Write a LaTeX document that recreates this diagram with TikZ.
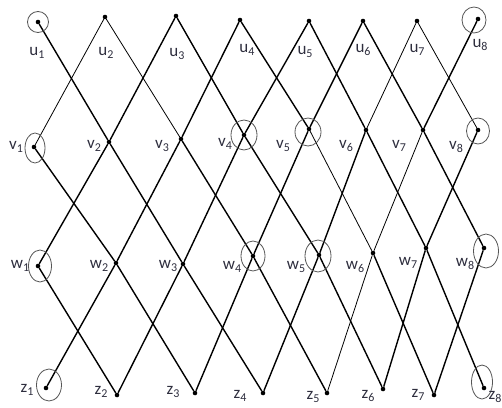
\documentclass[tikz,border=0pt]{standalone}
\usepackage{fontspec}
\setmainfont{Carlito}
\definecolor{lab}{HTML}{2E2E3E}
\definecolor{ring}{HTML}{555555}
\newcommand{\lb}[2]{#1\raisebox{-0.35ex}{\fontsize{12}{12}\selectfont #2}}
\tikzset{
  dot/.style={circle,fill=black,inner sep=0pt,minimum size=4.6pt},
  edge/.style={line width=1.4pt},
  thinedge/.style={line width=0.8pt},
  ring/.style={draw=ring,line width=0.8pt},
  lbl/.style={text=lab,font=\fontsize{17}{17}\selectfont,inner sep=0pt}
}
\begin{document}
\begin{tikzpicture}[x=1pt,y=-1pt]
\useasboundingbox (0,0) rectangle (502,407);
% u row
\node[dot] (u1) at (38,22) {};
\node[dot] (u2) at (105,17) {};
\node[dot] (u3) at (176,16) {};
\node[dot] (u4) at (240,20) {};
\node[dot] (u5) at (309,21) {};
\node[dot] (u6) at (363,21) {};
\node[dot] (u7) at (417,21) {};
\node[dot] (u8) at (478,19) {};
% v row
\node[dot] (v1) at (34,147) {};
\node[dot] (v2) at (109,142) {};
\node[dot] (v3) at (181,139) {};
\node[dot] (v4) at (244,135) {};
\node[dot] (v5) at (309,129) {};
\node[dot] (v6) at (366,130) {};
\node[dot] (v7) at (423,130) {};
\node[dot] (v8) at (478,130) {};
% w row
\node[dot] (w1) at (38,266) {};
\node[dot] (w2) at (116,263) {};
\node[dot] (w3) at (183,264) {};
\node[dot] (w4) at (253,256) {};
\node[dot] (w5) at (319,255) {};
\node[dot] (w6) at (373,253) {};
\node[dot] (w7) at (426,248) {};
\node[dot] (w8) at (484,248) {};
% z row
\node[dot] (z1) at (46,388) {};
\node[dot] (z2) at (117,395) {};
\node[dot] (z3) at (195,393) {};
\node[dot] (z4) at (263,393) {};
\node[dot] (z5) at (327,393) {};
\node[dot] (z6) at (383,389) {};
\node[dot] (z7) at (434,395) {};
\node[dot] (z8) at (484,388) {};
% edges u-v
\draw[edge] (u1) -- (v2);
\draw[thinedge] (u2) -- (v1);
\draw[thinedge] (u2) -- (v3);
\draw[edge] (u3) -- (v2);
\draw[edge] (u3) -- (v4);
\draw[edge] (u4) -- (v3);
\draw[edge] (u4) -- (v5);
\draw[edge] (u5) -- (v4);
\draw[edge] (u5) -- (v6);
\draw[edge] (u6) -- (v5);
\draw[edge] (u6) -- (v7);
\draw[thinedge] (u7) -- (v6);
\draw[thinedge] (u7) -- (v8);
\draw[edge] (u8) -- (v7);
% edges v-w
\draw[edge] (v1) -- (w2);
\draw[edge] (v2) -- (w1);
\draw[edge] (v2) -- (w3);
\draw[edge] (v3) -- (w2);
\draw[edge] (v3) -- (w4);
\draw[edge] (v4) -- (w3);
\draw[edge] (v4) -- (w5);
\draw[edge] (v5) -- (w4);
\draw[thinedge] (v5) -- (w6);
\draw[edge] (v6) -- (w5);
\draw[edge] (v6) -- (w7);
\draw[thinedge] (v7) -- (w6);
\draw[edge] (v7) -- (w8);
\draw[edge] (v8) -- (w7);
% edges w-z
\draw[edge] (w1) -- (z2);
\draw[edge] (w2) -- (z1);
\draw[edge] (w2) -- (z3);
\draw[edge] (w3) -- (z2);
\draw[edge] (w3) -- (z4);
\draw[edge] (w4) -- (z3);
\draw[edge] (w4) -- (z5);
\draw[edge] (w5) -- (z4);
\draw[edge] (w5) -- (z6);
\draw[thinedge] (w6) -- (z5);
\draw[edge] (w6) -- (z7);
\draw[edge] (w7) -- (z6);
\draw[edge] (w7) -- (z8);
\draw[edge] (w8) -- (z7);
% rings
\draw[ring] (u1) ellipse [x radius=10.5,y radius=10.5];
\draw[ring] ([shift={(-4,1)}]u8.center) ellipse [x radius=12,y radius=13];
\draw[ring] ([shift={(1,1)}]v1.center) ellipse [x radius=10,y radius=15];
\draw[ring] (v4) ellipse [x radius=13,y radius=15];
\draw[ring] ([shift={(-1,3)}]v5.center) ellipse [x radius=13,y radius=14];
\draw[ring] ([shift={(0,1)}]v8.center) ellipse [x radius=11.5,y radius=13];
\draw[ring] ([shift={(2,0)}]w1.center) ellipse [x radius=11.5,y radius=16];
\draw[ring] (w4) ellipse [x radius=12,y radius=15];
\draw[ring] ([shift={(-1,1)}]w5.center) ellipse [x radius=13,y radius=16];
\draw[ring] ([shift={(2,3)}]w8.center) ellipse [x radius=12.5,y radius=17];
\draw[ring] ([shift={(3,-3)}]z1.center) ellipse [x radius=12.5,y radius=16];
\draw[ring] ([shift={(-2,-6)}]z8.center) ellipse [x radius=10.5,y radius=17];
% labels
\node[lbl] (lu1) at (37,53) {\lb{u}{1}};
\node[lbl] (lu2) at (106,53) {\lb{u}{2}};
\node[lbl] (lu3) at (177,54) {\lb{u}{3}};
\node[lbl] (lu4) at (247,50) {\lb{u}{4}};
\node[lbl] (lu5) at (305,52) {\lb{u}{5}};
\node[lbl] (lu6) at (363,50) {\lb{u}{6}};
\node[lbl] (lu7) at (417,50) {\lb{u}{7}};
\node[lbl] (lu8) at (480,45) {\lb{u}{8}};
\node[lbl] (lv1) at (16,147) {\lb{v}{1}};
\node[lbl] (lv2) at (94,146) {\lb{v}{2}};
\node[lbl] (lv3) at (162,146) {\lb{v}{3}};
\node[lbl] (lv4) at (225,144) {\lb{v}{4}};
\node[lbl] (lv5) at (283,146) {\lb{v}{5}};
\node[lbl] (lv6) at (346,146) {\lb{v}{6}};
\node[lbl] (lv7) at (399,146) {\lb{v}{7}};
\node[lbl] (lv8) at (456,147) {\lb{v}{8}};
\node[lbl] (lw1) at (20,266) {\lb{w}{1}};
\node[lbl] (lw2) at (99,266) {\lb{w}{2}};
\node[lbl] (lw3) at (168,266) {\lb{w}{3}};
\node[lbl] (lw4) at (232,267) {\lb{w}{4}};
\node[lbl] (lw5) at (296,267) {\lb{w}{5}};
\node[lbl] (lw6) at (355,267) {\lb{w}{6}};
\node[lbl] (lw7) at (408,263) {\lb{w}{7}};
\node[lbl] (lw8) at (465,264) {\lb{w}{8}};
\node[lbl] (lz1) at (27,390) {\lb{z}{1}};
\node[lbl] (lz2) at (101,392) {\lb{z}{2}};
\node[lbl] (lz3) at (173,392) {\lb{z}{3}};
\node[lbl] (lz4) at (240,396) {\lb{z}{4}};
\node[lbl] (lz5) at (313,397) {\lb{z}{5}};
\node[lbl] (lz6) at (368,396) {\lb{z}{6}};
\node[lbl] (lz7) at (418,395) {\lb{z}{7}};
\node[lbl] (lz8) at (495,397) {\lb{z}{8}};
\end{tikzpicture}
\end{document}
